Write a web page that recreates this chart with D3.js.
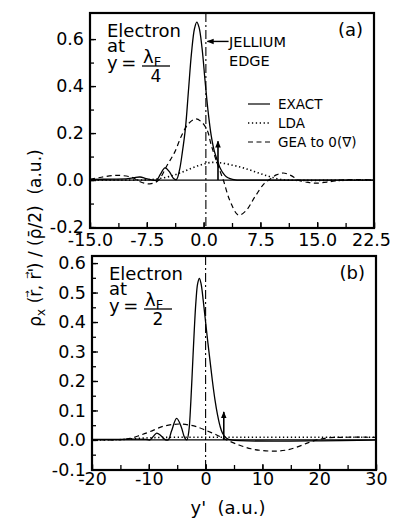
<!DOCTYPE html>
<html>
<head>
<meta charset="utf-8">
<script src="https://cdn.jsdelivr.net/npm/d3@7"></script>
<style>
  body { margin: 0; background: #fff; }
  svg { display: block; }
  text { font-family: "DejaVu Sans", sans-serif; fill: #000; }
</style>
</head>
<body>
<div id="chart"></div>
<script>
// ---- panel (a): electron at y = lambdaF/4 ----
var exactA_x = [-15, -12, -10, -9.2, -8.4, -7.6, -6.9, -6.2, -5.7, -5.1, -4.5, -4.0, -3.6, -3.2, -2.8, -2.4, -2.0, -1.6, -1.2, -0.9, -0.6, -0.2, 0.2, 0.6, 1.0, 1.4, 1.8, 2.2, 2.6, 3.0, 3.5, 4.2, 5, 22.5];
var exactA_y = [0.003, 0.004, 0.006, 0.010, 0.013, 0.006, 0.001, 0.0, 0.025, 0.052, 0.035, 0.008, 0.002, 0.04, 0.12, 0.22, 0.38, 0.54, 0.645, 0.672, 0.65, 0.56, 0.42, 0.29, 0.19, 0.125, 0.085, 0.05, 0.028, 0.014, 0.006, 0.001, 0, 0];
var ldaA_x = [-15, -9, -7, -5.5, -4, -3, -2, -1, 0, 1, 2, 3, 4, 5, 6, 7, 8, 9, 10, 11, 22.5];
var ldaA_y = [0, 0, 0.002, 0.008, 0.02, 0.032, 0.045, 0.058, 0.068, 0.075, 0.074, 0.069, 0.062, 0.054, 0.044, 0.033, 0.022, 0.012, 0.004, 0, 0];
var geaA_x = [-15, -13.5, -11.5, -9.5, -8.3, -7.1, -6, -4.8, -3.8, -2.9, -2.0, -1.0, -0.2, 0.5, 1.0, 1.7, 2.6, 3.5, 4.6, 5.6, 6.8, 8.0, 8.8, 9.6, 10.5, 11.5, 12.5, 13.8, 15, 16.5, 18, 20, 22.5];
var geaA_y = [0.003, 0.012, 0.02, 0.012, -0.008, -0.016, -0.002, 0.064, 0.12, 0.19, 0.24, 0.26, 0.245, 0.21, 0.15, 0.08, 0.0, -0.09, -0.149, -0.13, -0.07, -0.015, 0.005, 0.022, 0.03, 0.02, 0.0, -0.01, -0.013, -0.008, 0.0, 0.002, 0.001];
var xTicksA = [-15, -7.5, 0, 7.5, 15, 22.5];
var xLabelsA = ["-15.0", "-7.5", "0.0", "7.5", "15.0", "22.5"];
var yTicksA = [-0.2, 0, 0.2, 0.4, 0.6];
var yLabelsA = ["-0.2", "0.0", "0.2", "0.4", "0.6"];

// ---- panel (b): electron at y = lambdaF/2 ----
var exactB_x = [-20, -15, -12, -10.5, -9.8, -9.2, -8.6, -7.9, -7.2, -6.6, -6.0, -5.1, -4.3, -3.7, -3.3, -2.95, -2.6, -2.3, -2.0, -1.7, -1.4, -1.1, -0.8, -0.4, 0, 0.4, 0.8, 1.2, 1.65, 2.1, 2.5, 3.0, 3.7, 4.5, 30];
var exactB_y = [0.002, 0.002, 0.003, 0.002, 0.0, 0.012, 0.023, 0.015, 0.002, 0.0, 0.03, 0.073, 0.045, 0.008, 0.0, 0.03, 0.13, 0.25, 0.37, 0.47, 0.53, 0.548, 0.53, 0.47, 0.4, 0.33, 0.265, 0.2, 0.136, 0.085, 0.05, 0.022, 0.006, 0.0, 0];
var ldaB_x = [-20, -15, -12, -9, -5, 0, 5, 10, 20, 30];
var ldaB_y = [0, 0.001, 0.005, 0.008, 0.009, 0.009, 0.009, 0.009, 0.009, 0.009];
var geaB_x = [-20, -15, -13.3, -11.5, -9.8, -7.5, -5.5, -4.5, -3, -1.6, 0, 1.95, 3.7, 6, 8, 10, 12.2, 14, 16, 18, 19.6, 21.5, 24, 30];
var geaB_y = [0.001, 0.001, 0.005, 0.016, 0.028, 0.046, 0.053, 0.054, 0.051, 0.045, 0.033, 0.017, 0.0, -0.018, -0.03, -0.036, -0.038, -0.035, -0.025, -0.01, 0.0, 0.007, 0.009, 0.009];
var xTicksB = [-20, -10, 0, 10, 20, 30];
var xLabelsB = ["-20", "-10", "0", "10", "20", "30"];
var yTicksB = [-0.1, 0, 0.1, 0.2, 0.3, 0.4, 0.5, 0.6];
var yLabelsB = ["-0.1", "0.0", "0.1", "0.2", "0.3", "0.4", "0.5", "0.6"];

var legendLabels = ["EXACT", "LDA", "GEA to 0(\u2207)"];
var legendDash = [null, "1.3,2.6", "5,3.5"];

var W = 393, H = 523;
var svg = d3.select("#chart").append("svg").attr("width", W).attr("height", H);

var defs = svg.append("defs");
defs.append("marker")
    .attr("id", "head")
    .attr("viewBox", "0 0 10 10")
    .attr("refX", 9).attr("refY", 5)
    .attr("markerWidth", 7).attr("markerHeight", 7)
    .attr("markerUnits", "userSpaceOnUse")
    .attr("orient", "auto")
  .append("path")
    .attr("d", "M0,1 L10,5 L0,9 Z")
    .attr("fill", "#000");

function zip(xs, ys) { return xs.map(function(d, i) { return [d, ys[i]]; }); }

function drawPanel(p) {
  var x = d3.scaleLinear().domain(p.xDomain).range([p.left, p.right]);
  var y = d3.scaleLinear().domain(p.yDomain).range([p.bottom, p.top]);
  var g = svg.append("g");

  var clipId = "clip" + p.name;
  defs.append("clipPath").attr("id", clipId)
    .append("rect").attr("x", p.left).attr("y", p.top)
    .attr("width", p.right - p.left).attr("height", p.bottom - p.top);

  // minor ticks
  g.append("g")
      .attr("transform", "translate(0," + p.bottom + ")")
      .call(d3.axisBottom(x).tickValues(p.xMinor).tickSize(-5).tickFormat(""))
      .call(function(a) { a.select(".domain").remove(); });
  g.append("g")
      .attr("transform", "translate(" + p.left + ",0)")
      .call(d3.axisLeft(y).tickValues(p.yMinor).tickSize(-4).tickFormat(""))
      .call(function(a) { a.select(".domain").remove(); });

  // labelled ticks
  var xa = g.append("g")
      .attr("transform", "translate(0," + p.bottom + ")")
      .call(d3.axisBottom(x).tickValues(p.xTicks).tickSize(-6).tickPadding(p.xPad)
        .tickFormat(function(d, i) { return p.xLabels[i]; }));
  xa.select(".domain").remove();
  var ya = g.append("g")
      .attr("transform", "translate(" + p.left + ",0)")
      .call(d3.axisLeft(y).tickValues(p.yTicks).tickSize(-6).tickPadding(6)
        .tickFormat(function(d, i) { return p.yLabels[i]; }));
  ya.select(".domain").remove();
  g.selectAll(".tick text").attr("font-size", 17.5).attr("font-family", "DejaVu Sans, sans-serif");
  g.selectAll(".tick line").attr("stroke-width", 1.3);
  // keep the last x label inside the page
  xa.selectAll(".tick text").filter(function(d, i) { return i === p.xTicks.length - 1; })
      .attr("dx", p.lastShift);

  var plot = g.append("g").attr("clip-path", "url(#" + clipId + ")");

  // zero line
  plot.append("line")
      .attr("x1", p.left).attr("x2", p.right)
      .attr("y1", y(0)).attr("y2", y(0))
      .attr("stroke", "#000").attr("stroke-width", 1.2);

  // jellium edge
  plot.append("line")
      .attr("x1", x(p.edge)).attr("x2", x(p.edge))
      .attr("y1", p.top).attr("y2", p.bottom)
      .attr("stroke", "#000").attr("stroke-width", 1.1)
      .attr("stroke-dasharray", "9,3,2,3");

  var line = d3.line()
      .x(function(d) { return x(d[0]); })
      .y(function(d) { return y(d[1]); })
      .curve(d3.curveCatmullRom.alpha(0.5));

  plot.append("path").datum(zip(p.ldaX, p.ldaY))
      .attr("d", line).attr("fill", "none").attr("stroke", "#000")
      .attr("stroke-width", 1.6).attr("stroke-dasharray", legendDash[1]);
  plot.append("path").datum(zip(p.geaX, p.geaY))
      .attr("d", line).attr("fill", "none").attr("stroke", "#000")
      .attr("stroke-width", 1.2).attr("stroke-dasharray", legendDash[2]);
  plot.append("path").datum(zip(p.exactX, p.exactY))
      .attr("d", line).attr("fill", "none").attr("stroke", "#000")
      .attr("stroke-width", 1.3);

  // electron position arrow
  g.append("line")
      .attr("x1", x(p.arrowX)).attr("x2", x(p.arrowX))
      .attr("y1", y(0)).attr("y2", y(p.arrowTop))
      .attr("stroke", "#000").attr("stroke-width", 1.6)
      .attr("marker-end", "url(#head)");

  // frame
  g.append("rect")
      .attr("x", p.left).attr("y", p.top)
      .attr("width", p.right - p.left).attr("height", p.bottom - p.top)
      .attr("fill", "none").attr("stroke", "#000").attr("stroke-width", 2.2);

  // "Electron at y = lambdaF / n"
  var tx = p.left + 17;
  g.append("text").attr("x", tx).attr("y", p.top + 24).attr("font-size", 18).text("Electron");
  g.append("text").attr("x", tx).attr("y", p.top + 39).attr("font-size", 18).text("at");
  g.append("text").attr("x", tx).attr("y", p.top + 56).attr("font-size", 18)
      .attr("letter-spacing", -1).text("y =");
  var fx = tx + 35;
  var lam = g.append("text").attr("x", fx + 1).attr("y", p.top + 50).attr("font-size", 18);
  lam.append("tspan").text("\u03bb");
  lam.append("tspan").attr("font-size", 13).attr("dy", 3).text("F");
  g.append("line").attr("x1", fx).attr("x2", fx + 28)
      .attr("y1", p.top + 53).attr("y2", p.top + 53)
      .attr("stroke", "#000").attr("stroke-width", 1.3);
  g.append("text").attr("x", fx + 14).attr("y", p.top + 69).attr("font-size", 17)
      .attr("text-anchor", "middle").attr("font-family", p.denomFont).text(p.denom);

  g.append("text").attr("x", p.right - 11).attr("y", p.top + 23)
      .attr("font-size", 18).attr("text-anchor", "end").text(p.tag);

  return {x: x, y: y, g: g};
}

var a = drawPanel({
  name: "a", left: 90, right: 374, top: 13, bottom: 228,
  xDomain: [-15, 22.5], yDomain: [-0.204, 0.711],
  xTicks: xTicksA, xLabels: xLabelsA, yTicks: yTicksA, yLabels: yLabelsA,
  xMinor: d3.range(-15, 22.6, 3.75), yMinor: d3.range(-0.2, 0.65, 0.1),
  xPad: 6, lastShift: -3,
  exactX: exactA_x, exactY: exactA_y, ldaX: ldaA_x, ldaY: ldaA_y, geaX: geaA_x, geaY: geaA_y,
  edge: 0.3, arrowX: 1.9, arrowTop: 0.165,
  denom: "4", denomFont: "DejaVu Sans, sans-serif", tag: "(a)"
});

var b = drawPanel({
  name: "b", left: 92, right: 376, top: 256, bottom: 470,
  xDomain: [-20, 30], yDomain: [-0.102, 0.624],
  xTicks: xTicksB, xLabels: xLabelsB, yTicks: yTicksB, yLabels: yLabelsB,
  xMinor: d3.range(-20, 30.1, 5), yMinor: d3.range(-0.1, 0.61, 0.05),
  xPad: 3, lastShift: 0,
  exactX: exactB_x, exactY: exactB_y, ldaX: ldaB_x, ldaY: ldaB_y, geaX: geaB_x, geaY: geaB_y,
  edge: 0, arrowX: 3.2, arrowTop: 0.095,
  denom: "2", denomFont: "Liberation Serif, serif", tag: "(b)"
});

// jellium edge label with arrow
a.g.append("line")
    .attr("x1", a.x(3.3)).attr("x2", a.x(0.5))
    .attr("y1", a.y(0.59)).attr("y2", a.y(0.59))
    .attr("stroke", "#000").attr("stroke-width", 1.4)
    .attr("marker-end", "url(#head)");
a.g.append("text").attr("x", 229).attr("y", 47).attr("font-size", 14.5).text("JELLIUM");
a.g.append("text").attr("x", 229).attr("y", 66).attr("font-size", 14.5).text("EDGE");

// legend
var leg = a.g.append("g").attr("transform", "translate(248,104)");
legendLabels.forEach(function(lbl, i) {
  var row = leg.append("g").attr("transform", "translate(0," + (i * 19) + ")");
  row.append("line").attr("x1", 0).attr("x2", 22).attr("y1", 0).attr("y2", 0)
      .attr("stroke", "#000").attr("stroke-width", i === 1 ? 1.6 : 1.2)
      .attr("stroke-dasharray", legendDash[i]);
  row.append("text").attr("x", 30).attr("y", 5).attr("font-size", 13.5).text(lbl);
});

// axis titles
svg.append("text").attr("x", 228).attr("y", 514).attr("font-size", 18)
    .attr("text-anchor", "middle").text("y'\u00a0\u00a0(a.u.)");

var yt = svg.append("text")
    .attr("transform", "translate(41,238) rotate(-90)")
    .attr("text-anchor", "middle").attr("font-size", 17);
yt.append("tspan").text("\u03c1");
yt.append("tspan").attr("font-size", 12).attr("dy", 4).text("x");
yt.append("tspan").attr("dy", -4).text("\u00a0(r");
yt.append("tspan").attr("font-size", 9).attr("dx", -8).attr("dy", -11).text("\u2192");
yt.append("tspan").attr("dy", 11).text(",\u00a0r'");
yt.append("tspan").attr("font-size", 9).attr("dx", -11).attr("dy", -11).text("\u2192");
yt.append("tspan").attr("dy", 11).attr("dx", 2).text(") / (\u03c1\u0304/2)\u00a0\u00a0(a.u.)");
</script>
</body>
</html>
